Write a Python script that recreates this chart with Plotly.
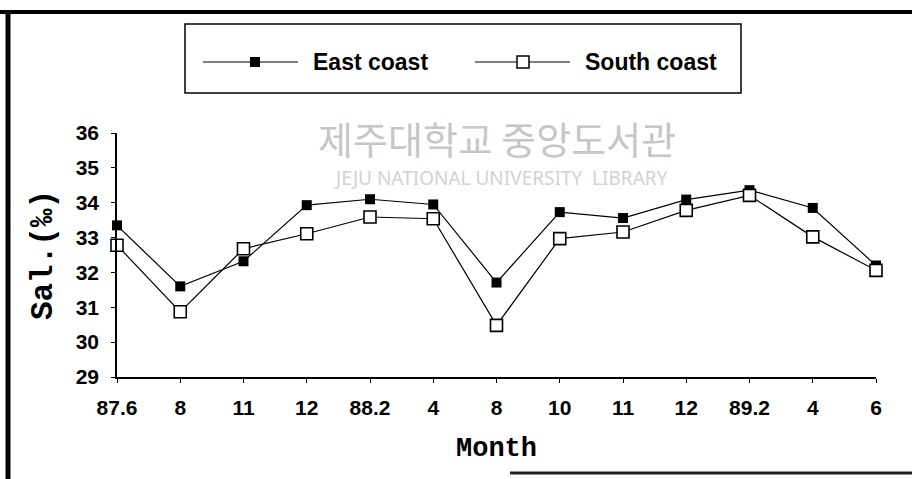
import plotly.graph_objects as go

# ---- data ----
months = ["87.6", "8", "11", "12", "88.2", "4", "8", "10", "11", "12", "89.2", "4", "6"]
east_coast = [33.35, 31.60, 32.32, 33.93, 34.10, 33.95, 31.71, 33.73, 33.56, 34.09, 34.36, 33.85, 32.20]
south_coast = [32.78, 30.87, 32.68, 33.11, 33.59, 33.54, 30.48, 32.97, 33.16, 33.78, 34.21, 33.02, 32.06]
y_ticks = [29, 30, 31, 32, 33, 34, 35, 36]

W, H = 912, 479
L, R, T, B = 117, 36, 133, 102
PW, PH = W - L - R, H - T - B

def px(x):
    return (x - L) / PW

def py(y):
    return (H - B - y) / PH

xpos = list(range(len(months)))

fig = go.Figure()
fig.add_trace(go.Scatter(
    x=xpos, y=east_coast, mode="lines+markers", name="East coast",
    line=dict(color="black", width=1.2),
    marker=dict(symbol="square", size=10, color="black"),
    cliponaxis=False, showlegend=False))
fig.add_trace(go.Scatter(
    x=xpos, y=south_coast, mode="lines+markers", name="South coast",
    line=dict(color="black", width=1.2),
    marker=dict(symbol="square", size=12, color="white", line=dict(color="black", width=1.6)),
    cliponaxis=False, showlegend=False))

tick_font = dict(family="Liberation Sans, Arial, sans-serif", size=21, color="black", weight="bold")
fig.update_xaxes(
    range=[0, len(months) - 1], tickmode="array", tickvals=xpos, ticktext=months,
    showline=True, linecolor="black", linewidth=1.5, ticks="outside", ticklen=4,
    tickcolor="black", showgrid=False, zeroline=False, tickfont=tick_font,
    ticklabelstandoff=7,
    title=dict(text="<b>Month</b>", font=dict(family="Liberation Mono, Courier New, monospace", size=27, color="black"), standoff=19))
fig.update_yaxes(
    range=[29, 36], tickmode="array", tickvals=y_ticks, ticktext=[str(v) for v in y_ticks],
    showline=True, linecolor="black", linewidth=1.5, ticks="outside", ticklen=4,
    tickcolor="black", showgrid=False, zeroline=False, tickfont=tick_font,
    ticklabelstandoff=8,
    title=dict(text="<b>Sal.(‰)</b>", font=dict(family="Liberation Mono, Courier New, monospace", size=31, color="black"), standoff=14))

shapes = []
# scanned page frame
shapes.append(dict(type="line", xref="paper", yref="paper", x0=px(0), x1=px(912), y0=py(12), y1=py(12), line=dict(color="black", width=4)))
shapes.append(dict(type="line", xref="paper", yref="paper", x0=px(8), x1=px(8), y0=py(11), y1=py(479), line=dict(color="black", width=5)))
shapes.append(dict(type="line", xref="paper", yref="paper", x0=px(510), x1=px(912), y0=py(473), y1=py(473), line=dict(color="#222222", width=3)))
# legend box
shapes.append(dict(type="rect", xref="paper", yref="paper", x0=px(185), x1=px(741), y0=py(24), y1=py(93), line=dict(color="black", width=1.5), fillcolor="rgba(0,0,0,0)"))
ly = 62
shapes.append(dict(type="line", xref="paper", yref="paper", x0=px(203), x1=px(298), y0=py(ly), y1=py(ly), line=dict(color="black", width=1.2)))
shapes.append(dict(type="rect", xref="paper", yref="paper", x0=px(250), x1=px(260), y0=py(ly - 5), y1=py(ly + 5), line=dict(color="black", width=0), fillcolor="black"))
shapes.append(dict(type="line", xref="paper", yref="paper", x0=px(475), x1=px(570), y0=py(ly), y1=py(ly), line=dict(color="black", width=1.2)))
shapes.append(dict(type="rect", xref="paper", yref="paper", x0=px(517), x1=px(529), y0=py(ly - 6), y1=py(ly + 6), line=dict(color="black", width=1.5), fillcolor="white"))

annotations = []
leg_font = dict(family="Liberation Sans, Arial, sans-serif", size=23, color="black")
annotations.append(dict(xref="paper", yref="paper", x=px(311), y=py(ly), text="<b>East coast</b>", showarrow=False, xanchor="left", yanchor="middle", font=leg_font))
annotations.append(dict(xref="paper", yref="paper", x=px(583), y=py(ly), text="<b>South coast</b>", showarrow=False, xanchor="left", yanchor="middle", font=leg_font))
# library watermark
annotations.append(dict(xref="paper", yref="paper", x=px(497), y=py(137), text="제주대학교 중앙도서관", showarrow=False, xanchor="center", yanchor="middle",
                        font=dict(family="Noto Sans CJK KR", size=38, color="#c6c6c6")))
annotations.append(dict(xref="paper", yref="paper", x=px(501), y=py(178), text="JEJU NATIONAL UNIVERSITY  LIBRARY", showarrow=False, xanchor="center", yanchor="middle",
                        font=dict(family="Noto Sans", size=19, color="#d2d2d2")))

fig.update_layout(
    width=W, height=H, margin=dict(l=L, r=R, t=T, b=B),
    paper_bgcolor="white", plot_bgcolor="white",
    shapes=shapes, annotations=annotations, showlegend=False)

fig.write_html("out.html", config={"displayModeBar": False},
               post_script="document.body.style.margin='0px';document.body.style.overflow='hidden';")
